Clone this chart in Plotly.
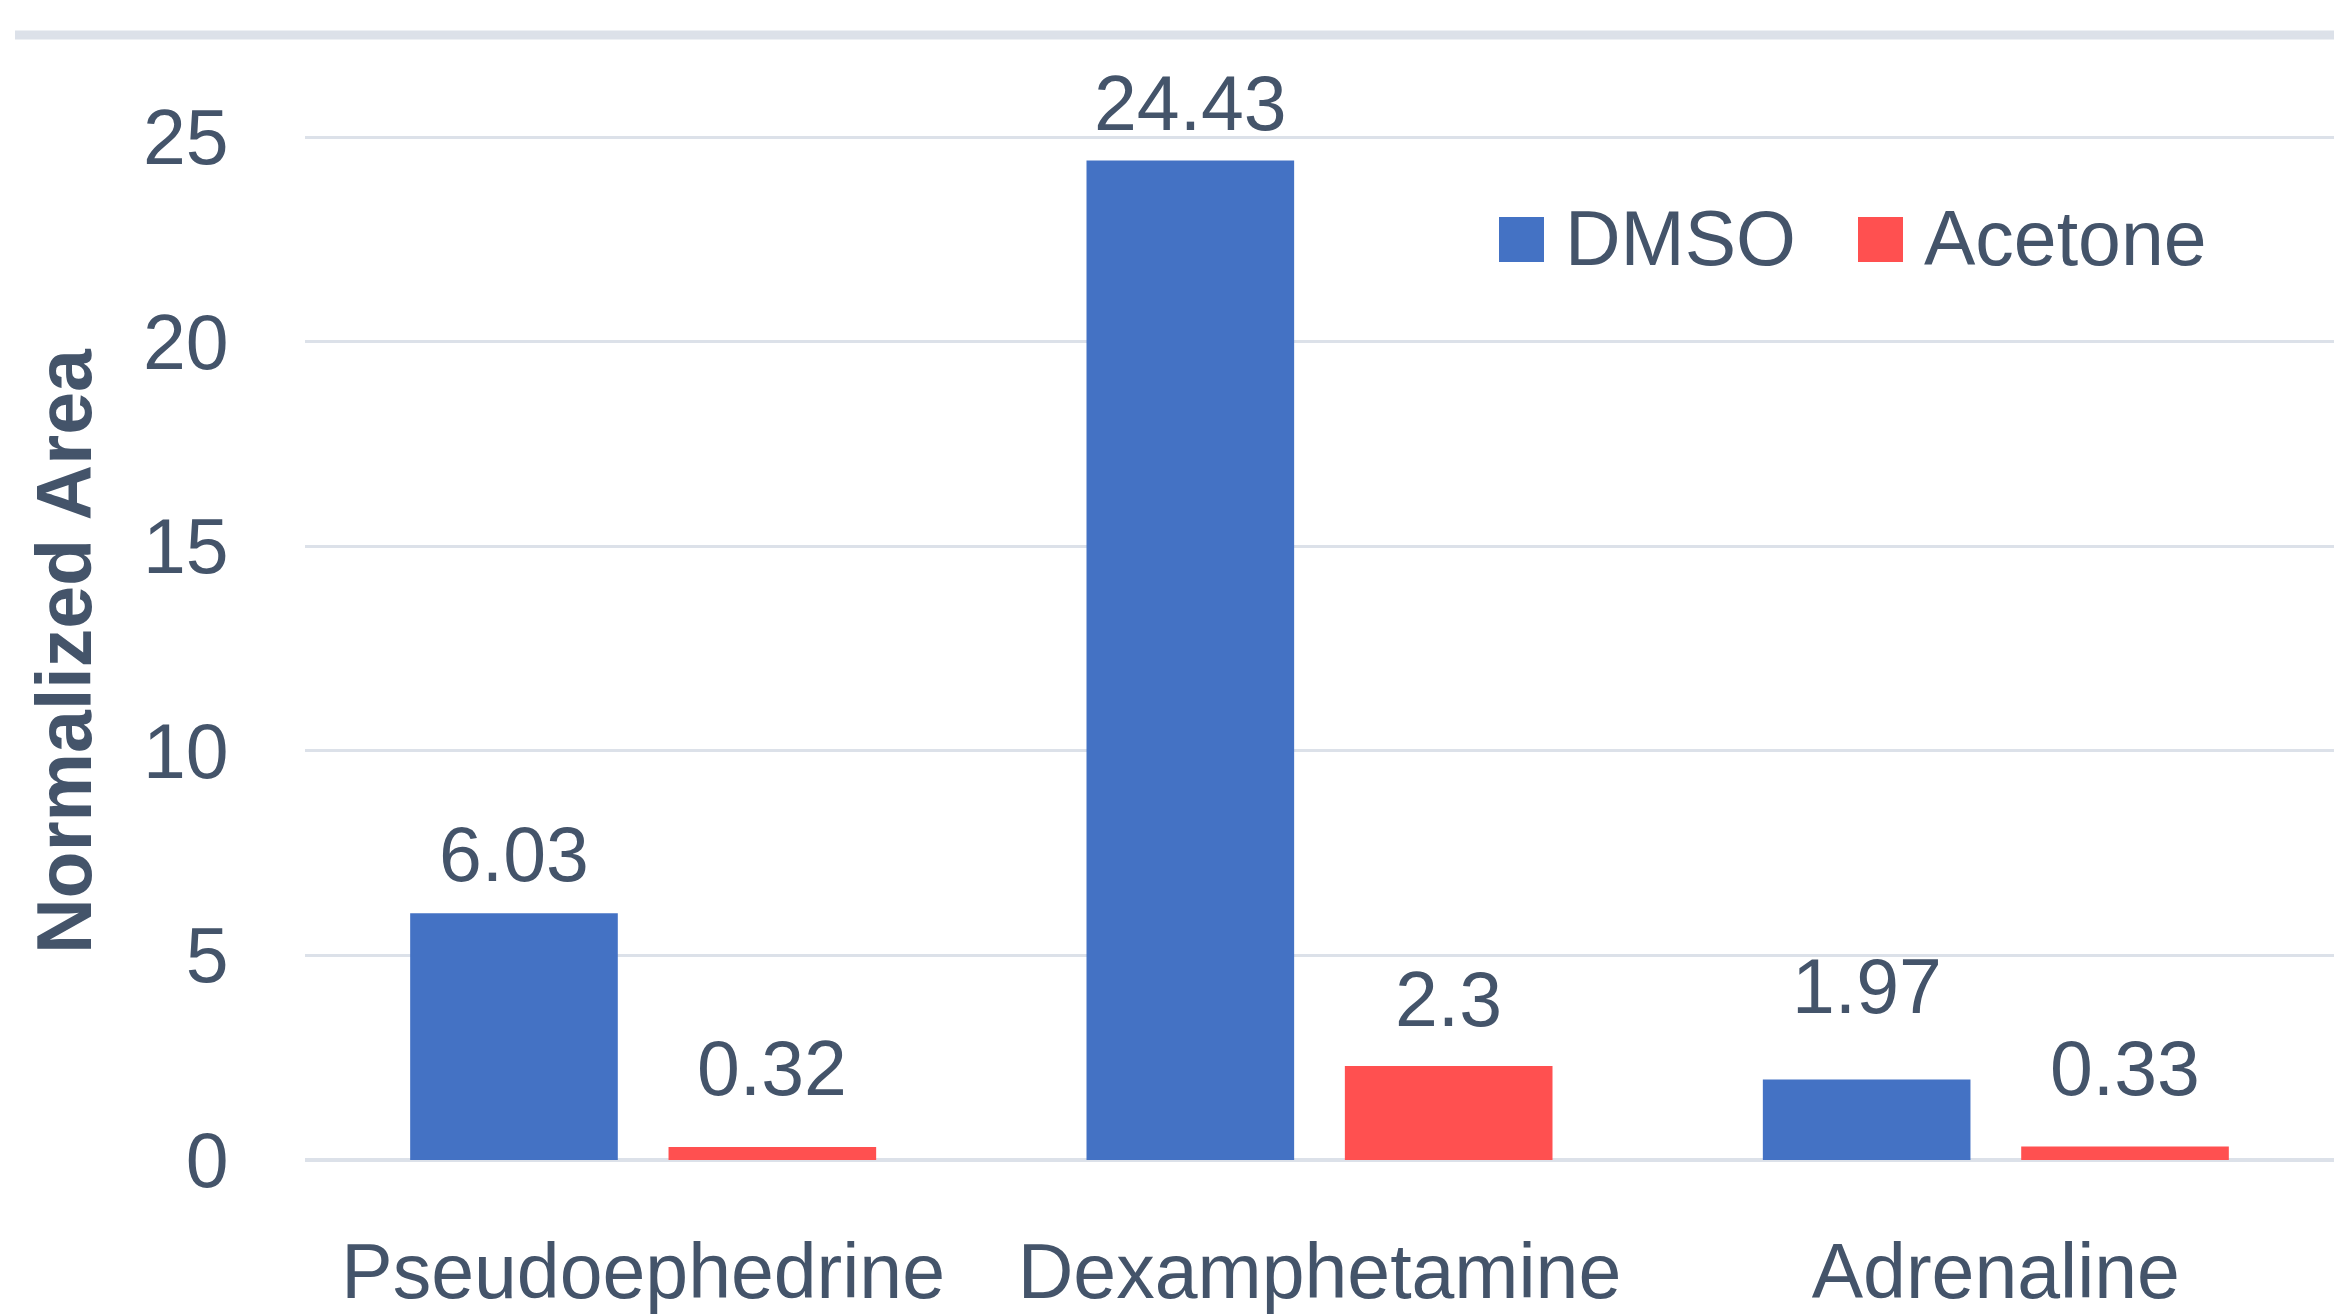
import plotly.graph_objects as go

# Data
categories = ["Pseudoephedrine", "Dexamphetamine", "Adrenaline"]
dmso = [6.03, 24.43, 1.97]
acetone = [0.32, 2.3, 0.33]
y_ticks = [0, 5, 10, 15, 20, 25]

# Styling
W, H = 2334, 1314
M_L, M_R, M_T, M_B = 305, 0, 36, 154
TEXT = "#44546A"
GRID = "#DCE1E9"
BLUE = "#4472C4"
RED = "#FF5050"
FONT = "Liberation Sans, Arial, sans-serif"
FS = 77
Y_MAX = 27.47

BAR_W = 0.307
HALF_STEP = 0.191

# extra lift of each value label above its bar (pixels)
lift_dmso = [6, 4, 40]
lift_acetone = [26, 14, 26]

fig = go.Figure()
fig.add_trace(go.Bar(x=list(range(len(categories))), y=dmso, name="DMSO",
                     marker=dict(color=BLUE, line=dict(width=0)),
                     width=BAR_W, offset=-HALF_STEP - BAR_W / 2, showlegend=False))
fig.add_trace(go.Bar(x=list(range(len(categories))), y=acetone, name="Acetone",
                     marker=dict(color=RED, line=dict(width=0)),
                     width=BAR_W, offset=HALF_STEP - BAR_W / 2, showlegend=False))

annotations = []
for i, (v, lift) in enumerate(zip(dmso, lift_dmso)):
    annotations.append(dict(x=i - HALF_STEP, y=v, xref="x", yref="y", text=f"{v:g}",
                            showarrow=False, yanchor="bottom", yshift=lift + 8,
                            font=dict(family=FONT, size=FS, color=TEXT)))
for i, (v, lift) in enumerate(zip(acetone, lift_acetone)):
    annotations.append(dict(x=i + HALF_STEP, y=v, xref="x", yref="y", text=f"{v:g}",
                            showarrow=False, yanchor="bottom", yshift=lift + 8,
                            font=dict(family=FONT, size=FS, color=TEXT)))


def px_x(px):
    return (px - M_L) / (W - M_L - M_R)


def px_y(py):
    return (H - M_B - py) / (H - M_T - M_B)


# axis title
annotations.append(dict(x=px_x(64), y=px_y(651), xref="paper", yref="paper",
                        text="<b>Normalized Area</b>", textangle=-90, showarrow=False,
                        xanchor="center", yanchor="middle",
                        font=dict(family=FONT, size=FS, color=TEXT)))

# legend: swatches and labels
shapes = []
legend_items = [("DMSO", BLUE, 1499), ("Acetone", RED, 1858)]
for label, color, x0 in legend_items:
    shapes.append(dict(type="rect", xref="paper", yref="paper",
                       x0=px_x(x0), x1=px_x(x0 + 45), y0=px_y(262), y1=px_y(217),
                       fillcolor=color, line=dict(width=0)))
    annotations.append(dict(x=px_x(x0 + 64), y=px_y(238), xref="paper", yref="paper",
                            text=label, showarrow=False, xanchor="left", yanchor="middle",
                            font=dict(family=FONT, size=FS, color=TEXT)))

# top border line
shapes.append(dict(type="line", xref="paper", yref="paper",
                   x0=px_x(15), x1=1, y0=px_y(35), y1=px_y(35),
                   line=dict(color=GRID, width=9)))

fig.update_layout(
    width=W, height=H,
    margin=dict(l=M_L, r=M_R, t=M_T, b=M_B, autoexpand=False),
    paper_bgcolor="white", plot_bgcolor="white",
    font=dict(family=FONT, size=FS, color=TEXT),
    annotations=annotations, shapes=shapes,
    xaxis=dict(tickmode="array", tickvals=list(range(len(categories))), ticktext=categories,
               range=[-0.5, len(categories) - 0.5], showgrid=False, zeroline=False,
               showline=False, ticks="outside", ticklen=45, tickcolor="rgba(0,0,0,0)",
               tickfont=dict(family=FONT, size=FS, color=TEXT)),
    yaxis=dict(range=[0, Y_MAX], tickmode="array", tickvals=y_ticks,
               showgrid=True, gridcolor=GRID, gridwidth=3,
               zeroline=True, zerolinecolor=GRID, zerolinewidth=4,
               showline=False, ticks="outside", ticklen=60, tickcolor="rgba(0,0,0,0)",
               tickfont=dict(family=FONT, size=FS, color=TEXT)),
)

fig.write_html("out.html")
